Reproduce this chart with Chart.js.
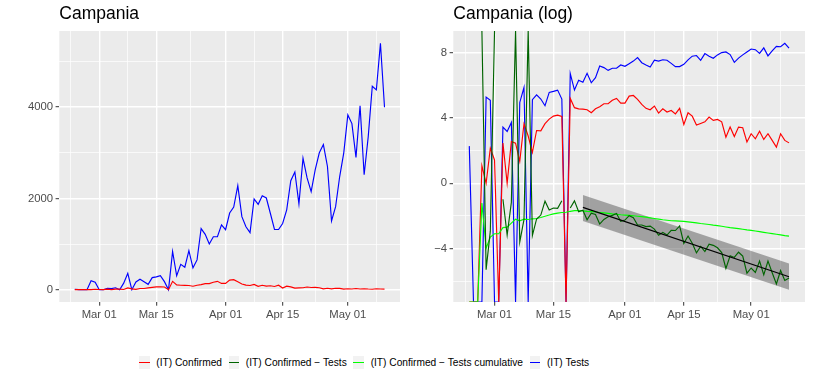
<!DOCTYPE html>
<html>
<head>
<meta charset="utf-8">
<script src="https://cdn.jsdelivr.net/npm/chart.js@4.4.1/dist/chart.umd.min.js"></script>
<style>
  html, body { margin: 0; padding: 0; background: #fff; }
  body { width: 814px; height: 380px; position: relative; overflow: hidden; font-family: 'Liberation Sans', Arial, sans-serif; }
  canvas { position: absolute; top: 0; }
  #leftPanel { left: 0; }
  #rightPanel { left: 407px; }
  #legend { position: absolute; left: 139px; top: 356px; display: flex; align-items: center; font-size: 10.2px; color: #000; white-space: nowrap; }
  .item { display: flex; align-items: center; margin-right: 6.6px; }
  .key { width: 10.5px; height: 13px; background: #F2F2F2; position: relative; margin-right: 6.8px; }
  .key span { position: absolute; left: 0; right: 0; top: 6px; height: 1.2px; }
</style>
</head>
<body>
<canvas id="leftPanel" width="407" height="330"></canvas>
<canvas id="rightPanel" width="407" height="330"></canvas>
<div id="legend"></div>
<script>
const INF = Infinity;

const dates = [
  '02-24', '02-25', '02-26', '02-27', '02-28', '02-29',
  '03-01', '03-02', '03-03', '03-04', '03-05', '03-06', '03-07', '03-08', '03-09', '03-10',
  '03-11', '03-12', '03-13', '03-14', '03-15', '03-16', '03-17', '03-18', '03-19', '03-20',
  '03-21', '03-22', '03-23', '03-24', '03-25', '03-26', '03-27', '03-28', '03-29', '03-30',
  '03-31', '04-01', '04-02', '04-03', '04-04', '04-05', '04-06', '04-07', '04-08', '04-09',
  '04-10', '04-11', '04-12', '04-13', '04-14', '04-15', '04-16', '04-17', '04-18', '04-19',
  '04-20', '04-21', '04-22', '04-23', '04-24', '04-25', '04-26', '04-27', '04-28', '04-29',
  '04-30', '05-01', '05-02', '05-03', '05-04', '05-05', '05-06', '05-07', '05-08', '05-09',
  '05-10',
];

// left panel: daily counts
const testsDaily = [
  10, 0, 0, 0, 198, 162,
  0, 0, 31, 24, 42, 0, 143, 357, 0, 169,
  228, 176, 117, 265, 281, 305, 176, 0, 837, 305,
  555, 493, 854, 478, 652, 1340, 1212, 1000, 1160, 1160,
  1420, 1315, 1680, 1810, 2280, 1600, 1380, 1250, 1990, 1870,
  2060, 2010, 1670, 1320, 1320, 1450, 1750, 2390, 2580, 1880,
  2880, 2450, 2150, 2630, 3000, 3180, 2700, 1505, 1820, 2480,
  3000, 3830, 3640, 2900, 4030, 2520, 3350, 4460, 4380, 5400,
  4000,
];
const confirmedDaily = [
  0, 0, 0, 3, 1, 9,
  4, 0, 12, 1, 13, 12, 4, 38, 18, 7,
  26, 25, 39, 51, 62, 65, 60, 0, 183, 104,
  97, 95, 91, 76, 97, 110, 132, 132, 162, 183,
  137, 137, 211, 219, 172, 126, 99, 91, 114, 74,
  97, 79, 87, 71, 99, 37, 76, 62, 35, 39,
  43, 58, 47, 50, 43, 17, 31, 18, 31, 30,
  13, 21, 15, 25, 15, 21, 14, 9, 21, 14,
  12,
];

// right panel: log values (+/-INF sit on the panel edge, null breaks the line)
const logTests = [
  2.28, -INF, -INF, -INF, 5.29, 5.09,
  -INF, -INF, 3.45, 3.18, 3.73, -INF, 4.96, 5.88, -INF, 5.13,
  5.43, 5.17, 4.76, 5.58, 5.64, 5.72, 5.17, -INF, 6.73, 5.72,
  6.32, 6.2, 6.75, 6.17, 6.48, 7.2, 7.1, 6.93, 7.06, 7.06,
  7.26, 7.18, 7.34, 7.5, 7.71, 7.4, 7.26, 7.14, 7.55, 7.5,
  7.58, 7.55, 7.36, 7.16, 7.16, 7.3, 7.57, 7.8, 7.84, 7.55,
  7.96, 7.8, 7.67, 7.88, 8.02, 8.06, 7.9, 7.42, 7.68, 7.88,
  8.06, 8.24, 8.2, 7.97, 8.31, 7.82, 8.12, 8.4, 8.38, 8.59,
  8.29,
];
const logConfirmed = [
  -INF, -INF, -INF, 1.07, 0, 2.15,
  1.43, -INF, 2.47, 0, 2.56, 2.46, 1.35, 3.65, 2.9, 1.9,
  3.24, 3.22, 3.66, 3.94, 4.12, 4.18, 4.1, -INF, 5.21, 4.64,
  4.57, 4.55, 4.51, 4.33, 4.57, 4.7, 4.88, 4.88, 5.09, 5.21,
  4.92, 4.92, 5.35, 5.39, 5.15, 4.84, 4.6, 4.51, 4.74, 4.31,
  4.57, 4.37, 4.47, 4.26, 4.6, 3.61, 4.33, 4.12, 3.57, 3.67,
  3.77, 4.06, 3.86, 3.92, 3.77, 2.83, 3.45, 2.87, 3.45, 3.41,
  2.54, 3.04, 2.73, 3.2, 2.69, 3.04, 2.63, 2.22, 3.04, 2.63,
  2.48,
];
const logConfirmedPerTest = [
  -INF, null, null, INF, -5.3, -2.94,
  INF, null, -0.98, -3.18, -1.17, INF, -3.6, -2.23, INF, -3.2,
  -2.19, -1.95, -1.1, -1.64, -1.52, -1.54, -1.07, null, -1.52, -1.08,
  -1.75, -1.65, -2.24, -1.84, -1.91, -2.5, -2.22, -2.05, -1.97, -1.85,
  -2.34, -2.26, -1.99, -2.11, -2.56, -2.56, -2.66, -2.63, -2.81, -3.19,
  -3.01, -3.18, -2.89, -2.9, -2.62, -3.69, -3.24, -3.68, -4.27, -3.88,
  -4.19, -3.74, -3.81, -3.96, -4.25, -5.23, -4.45, -4.55, -4.23, -4.47,
  -5.52, -5.2, -5.47, -4.77, -5.62, -4.78, -5.49, -6.18, -5.35, -5.96,
  -5.81,
];
const logCumulativePerTest = [
  -INF, -INF, -INF, -1.21, -3.98, -3.3,
  -3.1, -3.1, -2.72, -2.69, -2.44, -2.2, -2.3, -2.2, -2.22, -2.18,
  -2.16, -2.1, -2.02, -1.95, -1.88, -1.83, -1.79, -1.78, -1.72, -1.68,
  -1.67, -1.69, -1.72, -1.74, -1.76, -1.79, -1.82, -1.85, -1.88, -1.9,
  -1.93, -1.95, -1.97, -1.99, -2.02, -2.05, -2.08, -2.12, -2.16, -2.2,
  -2.24, -2.27, -2.3, -2.31, -2.32, -2.34, -2.37, -2.4, -2.43, -2.47,
  -2.5, -2.53, -2.57, -2.6, -2.64, -2.68, -2.72, -2.75, -2.78, -2.82,
  -2.86, -2.89, -2.93, -2.97, -3.01, -3.05, -3.09, -3.13, -3.17, -3.21,
  -3.24,
];

// linear trend of confirmed/tests from Mar 22 with its band
const fitDates = ['03-22', '05-10'];
const fitMean = [-1.48, -5.74];
const fitUpper = [-0.72, -4.93];
const fitLower = [-2.32, -6.53];

const xMajorDays = [0, 14, 31, 45, 61];
const xMajorLabels = ['Mar 01', 'Mar 15', 'Apr 01', 'Apr 15', 'May 01'];
const xMinorDays = [-7, 7, 22.5, 38, 53, 68];

const leftYMajor = [0, 2000, 4000];
const leftYLabels = ['0', '2000', '4000'];
const leftYMinor = [1000, 3000, 5000];

const rightYMajor = [-4, 0, 4, 8];
const rightYLabels = ['\u22124', '0', '4', '8'];
const rightYMinor = [-6, -2, 2, 6];

const seriesNames = ['(IT) Confirmed', '(IT) Confirmed \u2212 Tests', '(IT) Confirmed \u2212 Tests cumulative', '(IT) Tests'];
const seriesColors = ['#FF0000', '#006400', '#00FF00', '#0000FF'];

const AXIS_FONT = { family: "'Liberation Sans', Arial, sans-serif", size: 11.3 };
const AXIS_TEXT = '#4D4D4D';

function dayOf(s) {
  const [m, d] = s.split('-').map(Number);
  return Math.round((Date.UTC(2020, m - 1, d) - Date.UTC(2020, 2, 1)) / 864e5);
}
const days = dates.map(dayOf);
const fitDays = fitDates.map(dayOf);

// ggplot-like 5% expansion of the finite data range
function expandRange(values) {
  const finite = values.filter(Number.isFinite);
  const lo = Math.min(...finite), hi = Math.max(...finite);
  const pad = (hi - lo) * 0.05;
  return [lo - pad, hi + pad];
}

const xRange = expandRange(days);
const leftRange = expandRange(testsDaily.concat(confirmedDaily));
const rightRange = expandRange([].concat(logTests, logConfirmed, logConfirmedPerTest, logCumulativePerTest, fitUpper, fitLower));

function toPoints(xs, values, range) {
  return xs.map((x, i) => {
    const v = values[i];
    if (v === null) return { x, y: null };
    if (v === INF) return { x, y: range[1] };
    if (v === -INF) return { x, y: range[0] };
    return { x, y: v };
  });
}

const panelBackground = {
  id: 'panelBackground',
  beforeDraw(chart) {
    const { ctx, chartArea: a } = chart;
    ctx.save();
    ctx.fillStyle = '#EBEBEB';
    ctx.fillRect(a.left, a.top, a.right - a.left, a.bottom - a.top);
    ctx.restore();
  },
};

function gridStyle(majors) {
  const isMajor = (ctx) => ctx.tick && majors.includes(ctx.tick.value);
  return {
    color: '#FFFFFF',
    lineWidth: (ctx) => (isMajor(ctx) ? 1.4 : 0.7),
    tickColor: (ctx) => (isMajor(ctx) ? '#333333' : 'rgba(0,0,0,0)'),
    tickLength: 3.7,
    tickWidth: 1,
  };
}

function xAxis() {
  const gridDays = xMinorDays.concat(xMajorDays).sort((a, b) => a - b);
  return {
    type: 'linear',
    min: xRange[0],
    max: xRange[1],
    afterBuildTicks(scale) { scale.ticks = gridDays.map((value) => ({ value })); },
    afterFit(scale) { scale.height = 28; },
    border: { display: false },
    grid: gridStyle(xMajorDays),
    ticks: {
      autoSkip: false,
      maxRotation: 0,
      padding: 2,
      color: AXIS_TEXT,
      font: AXIS_FONT,
      callback(value) {
        const i = xMajorDays.indexOf(value);
        return i < 0 ? '' : xMajorLabels[i];
      },
    },
  };
}

function yAxis(range, majors, labels, minors, width) {
  const gridValues = minors.concat(majors).sort((a, b) => a - b);
  return {
    type: 'linear',
    min: range[0],
    max: range[1],
    afterBuildTicks(scale) { scale.ticks = gridValues.map((value) => ({ value })); },
    afterFit(scale) { scale.width = width; },
    border: { display: false },
    grid: gridStyle(majors),
    ticks: {
      autoSkip: false,
      padding: 2.5,
      color: AXIS_TEXT,
      font: AXIS_FONT,
      callback(value) {
        const i = majors.indexOf(value);
        return i < 0 ? '' : labels[i];
      },
    },
  };
}

function line(label, points, color, order) {
  return { label, data: points, borderColor: color, borderWidth: 1.15, pointRadius: 0, fill: false, tension: 0, order };
}

function panelOptions(title, yScale, rightPad) {
  return {
    responsive: false,
    animation: false,
    events: [],
    layout: { padding: { left: 0, right: rightPad, top: 0, bottom: 0 } },
    plugins: {
      legend: { display: false },
      tooltip: { enabled: false },
      title: {
        display: true,
        text: title,
        align: 'start',
        fullSize: false,
        color: '#000000',
        font: { family: "'Liberation Sans', Arial, sans-serif", size: 17.5, weight: 'normal' },
        padding: { top: 4, bottom: 6 },
      },
    },
    scales: { x: xAxis(), y: yScale },
  };
}

new Chart(document.getElementById('leftPanel'), {
  type: 'line',
  data: {
    datasets: [
      line(seriesNames[0], toPoints(days, confirmedDaily, leftRange), seriesColors[0], 1),
      line(seriesNames[3], toPoints(days, testsDaily, leftRange), seriesColors[3], 2),
    ],
  },
  options: panelOptions('Campania', yAxis(leftRange, leftYMajor, leftYLabels, leftYMinor, 59.3), 7),
  plugins: [panelBackground],
});

new Chart(document.getElementById('rightPanel'), {
  type: 'line',
  data: {
    datasets: [
      line('fit', toPoints(fitDays, fitMean, rightRange), '#000000', 0),
      line(seriesNames[1], toPoints(days, logConfirmedPerTest, rightRange), seriesColors[1], 1),
      line(seriesNames[2], toPoints(days, logCumulativePerTest, rightRange), seriesColors[2], 2),
      line(seriesNames[0], toPoints(days, logConfirmed, rightRange), seriesColors[0], 3),
      line(seriesNames[3], toPoints(days, logTests, rightRange), seriesColors[3], 4),
      {
        label: 'band upper', data: toPoints(fitDays, fitUpper, rightRange), borderWidth: 0, pointRadius: 0,
        fill: '+1', backgroundColor: 'rgba(70,70,70,0.45)', order: 5,
      },
      { label: 'band lower', data: toPoints(fitDays, fitLower, rightRange), borderWidth: 0, pointRadius: 0, fill: false, order: 6 },
    ],
  },
  options: panelOptions('Campania (log)', yAxis(rightRange, rightYMajor, rightYLabels, rightYMinor, 46.3), 9),
  plugins: [panelBackground],
});

const legendBox = document.getElementById('legend');
seriesNames.forEach((name, i) => {
  const item = document.createElement('div');
  item.className = 'item';
  item.innerHTML = '<div class="key"><span style="background:' + seriesColors[i] + '"></span></div><div>' + name + '</div>';
  legendBox.appendChild(item);
});
</script>
</body>
</html>
